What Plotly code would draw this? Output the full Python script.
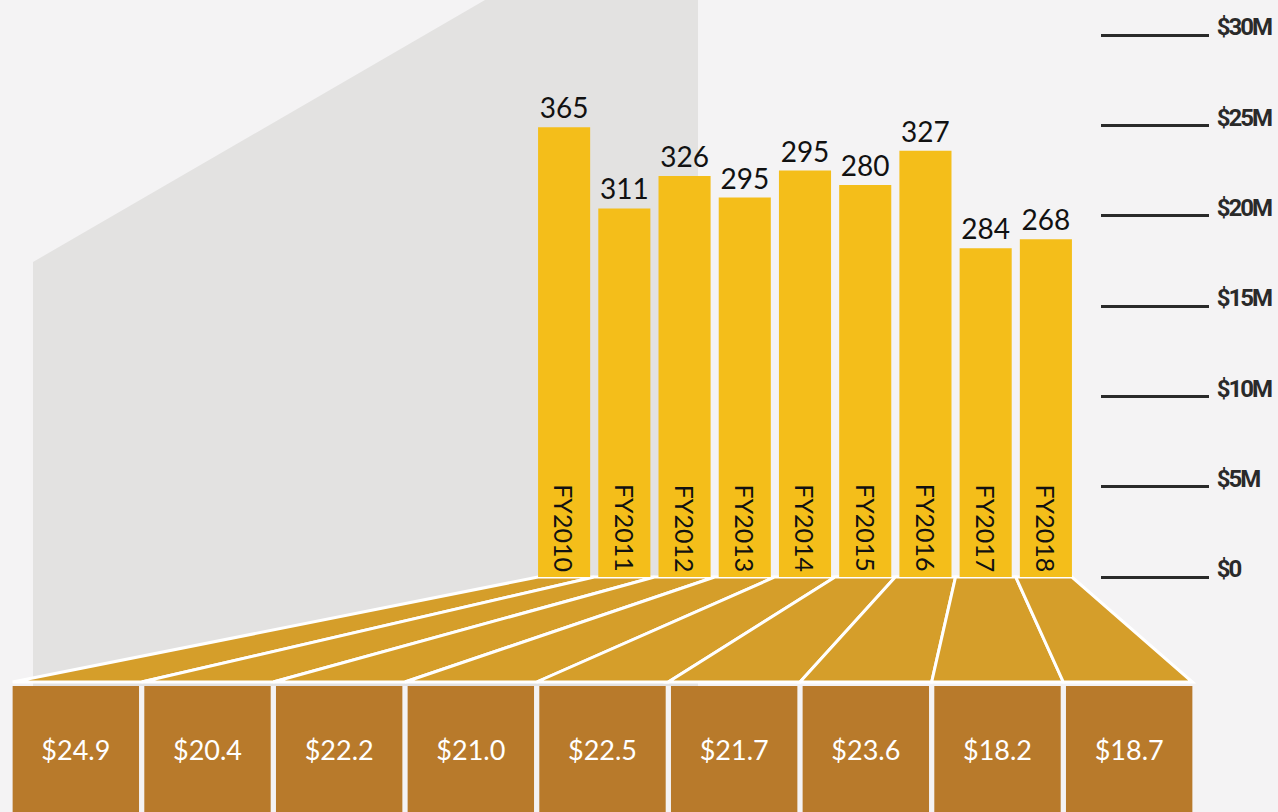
import plotly.graph_objects as go

# data
years = ["FY2010", "FY2011", "FY2012", "FY2013", "FY2014", "FY2015", "FY2016", "FY2017", "FY2018"]
revenue_m = [24.9, 20.4, 22.2, 21.0, 22.5, 21.7, 23.6, 18.2, 18.7]
counts = [365, 311, 326, 295, 295, 280, 327, 284, 268]
tick_vals = [0, 5, 10, 15, 20, 25, 30]
tick_text = ["$0", "$5M", "$10M", "$15M", "$20M", "$25M", "$30M"]

# page geometry in pixels
W, H = 1278, 812
BAR_X0, BAR_X1 = 534, 1076      # extent of the bar axis
AXIS_Y0, AXIS_Y1 = 577, 35      # pixel rows of $0 and $30M
BOX_X0, BOX_X1 = 10, 1195       # extent of the bottom boxes
BOX_TOP = 686
TRAP_BOT = 682
BAR_W = 0.865
BOX_W = 0.96

BG = "#F4F3F4"
GREY = "#E3E2E1"
YELLOW = "#F4BE1A"
GOLD = "#D59E2A"
BROWN = "#B87A2B"


def px(x):
    return x / W


def py(y):
    return (H - y) / H


n = len(years)

fig = go.Figure()

fig.add_trace(go.Bar(
    x=years, y=revenue_m, width=BAR_W,
    marker=dict(color=YELLOW, line=dict(width=0)),
    text=[str(c) for c in counts], textposition="outside",
    textfont=dict(family="Lato", size=28, color="#111111"),
    cliponaxis=False, hoverinfo="skip",
    xaxis="x", yaxis="y",
))

fig.add_trace(go.Bar(
    x=years, y=[1] * n, width=BOX_W,
    marker=dict(color=BROWN, line=dict(width=0)),
    text=["$%.1f" % v for v in revenue_m], textposition="inside",
    insidetextanchor="middle",
    textfont=dict(family="Lato", size=27, color="white"),
    hoverinfo="skip",
    xaxis="x2", yaxis="y2",
))

# rotated year labels inside the bars
for yr in years:
    fig.add_annotation(
        x=yr, y=0.15, xref="x", yref="y", text=yr, textangle=90,
        showarrow=False, yanchor="bottom",
        font=dict(family="Lato", size=25, color="#111111"),
    )

shapes = []
# grey backdrop
shapes.append(dict(
    type="path", xref="paper", yref="paper", layer="below",
    path="M %f %f L %f %f L %f %f L %f %f L %f %f Z" % (
        px(33), py(262), px(485), py(0), px(698), py(0),
        px(698), py(BOX_TOP), px(33), py(BOX_TOP)),
    fillcolor=GREY, line=dict(width=0),
))

# trapezoids linking each bar to its box
pitch_t = (BAR_X1 - BAR_X0) / n
pitch_b = (BOX_X1 - BOX_X0) / n
for i in range(n):
    tl = BAR_X0 + pitch_t * i
    tr = tl + pitch_t
    if i == 0:
        tl = BAR_X0 + pitch_t * (1 - BAR_W) / 2
    if i == n - 1:
        tr = BAR_X1 - pitch_t * (1 - BAR_W) / 2
    bl = BOX_X0 + pitch_b * i
    br = bl + pitch_b
    if i == 0:
        bl = BOX_X0 + pitch_b * (1 - BOX_W) / 2
    if i == n - 1:
        br = BOX_X1 - pitch_b * (1 - BOX_W) / 2
    shapes.append(dict(
        type="path", xref="paper", yref="paper", layer="below",
        path="M %f %f L %f %f L %f %f L %f %f Z" % (
            px(tl), py(AXIS_Y0), px(tr), py(AXIS_Y0),
            px(br), py(TRAP_BOT), px(bl), py(TRAP_BOT)),
        fillcolor=GOLD, line=dict(color="white", width=3),
    ))

# tighter lettering for the axis labels
narrow_text = ['<span style="letter-spacing:-2px">%s</span>' % t for t in tick_text]

fig.update_layout(
    width=W, height=H,
    margin=dict(l=0, r=0, t=0, b=0, autoexpand=False),
    paper_bgcolor=BG, plot_bgcolor="rgba(0,0,0,0)",
    showlegend=False,
    shapes=shapes,
    xaxis=dict(domain=[px(BAR_X0), px(BAR_X1)], range=[-0.5, n - 0.5],
               visible=False, anchor="y", fixedrange=True),
    yaxis=dict(domain=[py(AXIS_Y0), py(AXIS_Y1)], range=[0, 30],
               anchor="free", position=px(1100), side="right",
               tickvals=tick_vals, ticktext=narrow_text,
               ticks="outside", ticklen=108, tickwidth=3, tickcolor="#2a2a2a",
               ticklabelshift=-8, ticklabelstandoff=3,
               tickfont=dict(family="Roboto", weight=700, size=24, color="#2a2a2a"),
               showgrid=False, zeroline=False, showline=False, fixedrange=True),
    xaxis2=dict(domain=[px(BOX_X0), px(BOX_X1)], range=[-0.5, n - 0.5],
                visible=False, anchor="y2", fixedrange=True),
    yaxis2=dict(domain=[0, py(BOX_TOP)], range=[0, 1], visible=False,
                anchor="x2", fixedrange=True),
)

fig.write_html("out.html", config={"displayModeBar": False},
               post_script="document.body.style.margin='0';document.body.style.overflow='hidden';")
